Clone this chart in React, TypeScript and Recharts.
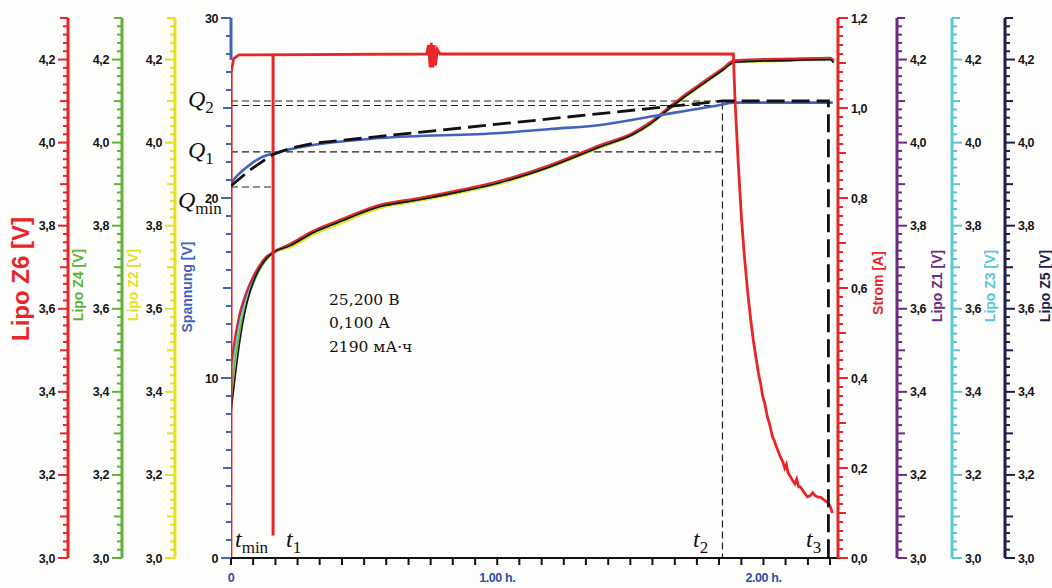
import React from 'react';
import { ComposedChart, Line, XAxis, YAxis, ReferenceLine } from 'recharts';

// ---------- data (time in hours) ----------
const cellEarlyT = [0, 0.0075, 0.0188, 0.0338, 0.0526, 0.0714, 0.0902, 0.109, 0.1316, 0.158];
const cellLateT = [0.222, 0.308, 0.41, 0.56, 0.711, 0.861, 1.011, 1.199, 1.387, 1.511, 1.575, 1.639, 1.699, 1.763, 1.85, 1.887, 1.925, 2.102, 2.252, 2.263];
const cellLateV = [3.752, 3.783, 3.81, 3.846, 3.863, 3.882, 3.904, 3.942, 3.99, 4.02, 4.045, 4.078, 4.108, 4.137, 4.176, 4.193, 4.195, 4.198, 4.2, 4.193];
const z6LateV = [3.755, 3.786, 3.813, 3.849, 3.866, 3.885, 3.907, 3.945, 3.993, 4.023, 4.048, 4.081, 4.111, 4.14, 4.179, 4.196, 4.198, 4.201, 4.203, 4.196];
const z2LateV = [3.748, 3.778, 3.805, 3.842, 3.86, 3.879, 3.901, 3.94, 3.988, 4.018, 4.043, 4.076, 4.106, 4.135, 4.175, 4.192, 4.194, 4.197, 4.199, 4.192];

const z6Early = [3.453, 3.489, 3.537, 3.586, 3.627, 3.658, 3.684, 3.704, 3.723, 3.735];
const z1Early = [3.44, 3.478, 3.528, 3.579, 3.62, 3.653, 3.68, 3.701, 3.721, 3.735];
const z3Early = [3.43, 3.47, 3.52, 3.572, 3.615, 3.65, 3.677, 3.699, 3.72, 3.735];
const z2Early = [3.41, 3.45, 3.505, 3.56, 3.607, 3.645, 3.673, 3.697, 3.718, 3.734];
const z4Early = [3.39, 3.43, 3.49, 3.55, 3.6, 3.64, 3.67, 3.695, 3.717, 3.734];
const z5Early = [3.349, 3.393, 3.453, 3.525, 3.593, 3.641, 3.675, 3.699, 3.72, 3.735];

const currentT = [0, 0.001, 0.01, 0.03, 0.735, 0.742, 0.748, 0.752, 0.758, 0.763, 0.768, 0.775, 0.785, 1.887, 1.893, 1.905, 1.918, 1.93, 1.94, 1.952, 1.962, 1.972, 1.981, 1.99, 1.997, 2.005, 2.015, 2.022, 2.028, 2.034, 2.04, 2.047, 2.055, 2.064, 2.072, 2.08, 2.086, 2.092, 2.102, 2.11, 2.118, 2.125, 2.132, 2.139, 2.15, 2.16, 2.165, 2.175, 2.185, 2.195, 2.203, 2.215, 2.23, 2.244, 2.252, 2.259];
const currentA = [0, 1.08, 1.11, 1.118, 1.12, 1.14, 1.09, 1.145, 1.09, 1.14, 1.095, 1.13, 1.12, 1.12, 1.02, 0.88, 0.75, 0.66, 0.596, 0.53, 0.484, 0.445, 0.411, 0.385, 0.36, 0.343, 0.313, 0.3, 0.285, 0.269, 0.262, 0.25, 0.238, 0.224, 0.215, 0.2, 0.208, 0.19, 0.18, 0.172, 0.165, 0.175, 0.158, 0.158, 0.148, 0.14, 0.136, 0.138, 0.145, 0.138, 0.136, 0.135, 0.128, 0.122, 0.112, 0.1];

const spanT = [0, 0.019, 0.06, 0.109, 0.165, 0.308, 0.56, 1.011, 1.2, 1.387, 1.6, 1.838, 1.887, 2.26];
const spanV = [20.83, 21.17, 21.72, 22.22, 22.5, 22.94, 23.33, 23.61, 23.83, 24.06, 24.58, 25.17, 25.3, 25.3];

const modelT = [0, 0.034, 0.071, 0.109, 0.158, 0.22, 0.308, 1.846, 2.244, 2.244];
const modelV = [20.67, 21.1, 21.55, 21.94, 22.42, 22.75, 23.04, 25.39, 25.39, 0];

// markers
const T1 = 0.158;
const T2 = 1.846;
const QMIN = 20.61;
const Q1 = 22.56;
const Q2A = 25.39;
const Q2B = 25.14;
const t1BarA = [1.12, 0.05];

// axis ticks
const X_MAX = 2.28;
const xMajor = [0, 1, 2];
const xMajorLabels = ['0', '1.00 h.', '2.00 h.'];

// ---------- helpers ----------
const mk = (ts: number[], vs: number[]) => ts.map((t, i) => ({ t, v: vs[i] }));
const cell = (early: number[], late: number[]) => [...mk(cellEarlyT, early), ...mk(cellLateT, late)];
const range = (a: number, b: number, step: number) => {
  const out: number[] = [];
  const n = Math.round((b - a) / step);
  for (let i = 0; i <= n; i++) out.push(Math.round((a + i * step) * 1000) / 1000);
  return out;
};
const lipoTicks = range(3.0, 4.3, 0.02);
const stromTicks = range(0, 1.2, 0.02);
const spanTicks = range(0, 30, 1);
const xTicks = range(0, 2.25, 1 / 12);

const RED = '#e8262a';
const GREEN = '#62b236';
const YELLOW = '#e4e21c';
const BLUE = '#4262bc';
const PURPLE = '#6e2a84';
const CYAN = '#5ac6d6';
const NAVY = '#1e1e4e';

const tickFont = { fontFamily: 'Liberation Sans, Arial, sans-serif', fontWeight: 700, fontSize: 12.5, fill: '#151515' };

const makeTick = (side: 'left' | 'right', color: string, kind: 'lipo' | 'strom' | 'span') => (p: any) => {
  const { x, y, payload } = p;
  const v = payload.value;
  let major = false;
  let mid = false;
  let label = '';
  if (kind === 'span') {
    major = v % 10 === 0;
    mid = v % 5 === 0;
    label = String(v);
  } else {
    const k = Math.round(v * 100);
    major = k % 20 === 0;
    mid = k % 10 === 0;
    label = v.toFixed(1).replace('.', ',');
  }
  const len = major ? 10 : mid ? 8 : 5;
  const dir = side === 'left' ? -1 : 1;
  return (
    <g>
      <line x1={x} x2={x + dir * len} y1={y} y2={y} stroke={color} strokeWidth={2} />
      {major && (
        <text x={x + dir * 13} y={y + 4.5} textAnchor={side === 'left' ? 'end' : 'start'} {...tickFont} letterSpacing={-0.4}>
          {label}
        </text>
      )}
    </g>
  );
};

const XTick = (p: any) => {
  const { x, y, payload } = p;
  const v = payload.value;
  const idx = xMajor.findIndex((m) => Math.abs(m - v) < 1e-6);
  return (
    <g>
      <line x1={x} x2={x} y1={y} y2={y + 7} stroke="#111" strokeWidth={2} />
      {idx >= 0 && (
        <text x={x} y={y + 24} textAnchor="middle" fontFamily="Liberation Sans, Arial, sans-serif" fontWeight={700} fontSize={12.5} fill="#2f4fa6" letterSpacing={-0.4}>
          {xMajorLabels[idx]}
        </text>
      )}
    </g>
  );
};

const serif = 'Liberation Serif, Times New Roman, serif';
const MathLabel = ({ x, y, main, sub }: { x: number; y: number; main: string; sub: string }) => (
  <text x={x} y={y} fontFamily={serif} fill="#111">
    <tspan fontStyle="italic" fontSize={24}>{main}</tspan>
    <tspan fontSize={17} dy={6}>{sub}</tspan>
  </text>
);

const AxisTitle = ({ x, y, text, color, size = 14 }: { x: number; y: number; text: string; color: string; size?: number }) => (
  <text x={x} y={y} transform={`rotate(-90, ${x}, ${y})`} textAnchor="middle" fontFamily="Liberation Sans, Arial, sans-serif" fontWeight={700} fontSize={size} fill={color}>
    {text}
  </text>
);

export default function App() {
  const dash = { stroke: '#222', strokeWidth: 1.2, strokeDasharray: '7 4' };
  return (
    <div style={{ position: 'absolute', left: 0, top: 0, width: 1052, height: 588, background: '#fdfdfb' }}>
      <ComposedChart width={1052} height={588} margin={{ top: 18, right: 0, bottom: 0, left: 0 }}>
        <XAxis
          xAxisId={0}
          type="number"
          dataKey="t"
          domain={[0, X_MAX]}
          ticks={xTicks}
          interval={0}
          height={30}
          axisLine={{ stroke: '#111', strokeWidth: 2 }}
          tickLine={false}
          tickSize={0}
          tickMargin={0}
          tick={XTick}
          allowDataOverflow
        />
        <YAxis yAxisId="span" orientation="left" width={56} type="number" domain={[0, 30]} ticks={spanTicks} interval={0} axisLine={{ stroke: BLUE, strokeWidth: 3, strokeDasharray: '42 2000' }} tickLine={false} tickSize={0} tickMargin={0} tick={makeTick('left', BLUE, 'span')} allowDataOverflow />
        <YAxis yAxisId="z2" orientation="left" width={53} type="number" domain={[3.0, 4.3]} ticks={lipoTicks} interval={0} axisLine={{ stroke: YELLOW, strokeWidth: 3 }} tickLine={false} tickSize={0} tickMargin={0} tick={makeTick('left', YELLOW, 'lipo')} allowDataOverflow />
        <YAxis yAxisId="z4" orientation="left" width={54} type="number" domain={[3.0, 4.3]} ticks={lipoTicks} interval={0} axisLine={{ stroke: GREEN, strokeWidth: 3 }} tickLine={false} tickSize={0} tickMargin={0} tick={makeTick('left', GREEN, 'lipo')} allowDataOverflow />
        <YAxis yAxisId="z6" orientation="left" width={68} type="number" domain={[3.0, 4.3]} ticks={lipoTicks} interval={0} axisLine={{ stroke: RED, strokeWidth: 3 }} tickLine={false} tickSize={0} tickMargin={0} tick={makeTick('left', RED, 'lipo')} allowDataOverflow />
        <YAxis yAxisId="strom" orientation="right" width={59} type="number" domain={[0, 1.2]} ticks={stromTicks} interval={0} axisLine={{ stroke: RED, strokeWidth: 3 }} tickLine={false} tickSize={0} tickMargin={0} tick={makeTick('right', RED, 'strom')} allowDataOverflow />
        <YAxis yAxisId="z1" orientation="right" width={55} type="number" domain={[3.0, 4.3]} ticks={lipoTicks} interval={0} axisLine={{ stroke: PURPLE, strokeWidth: 3 }} tickLine={false} tickSize={0} tickMargin={0} tick={makeTick('right', PURPLE, 'lipo')} allowDataOverflow />
        <YAxis yAxisId="z3" orientation="right" width={53} type="number" domain={[3.0, 4.3]} ticks={lipoTicks} interval={0} axisLine={{ stroke: CYAN, strokeWidth: 3 }} tickLine={false} tickSize={0} tickMargin={0} tick={makeTick('right', CYAN, 'lipo')} allowDataOverflow />
        <YAxis yAxisId="z5" orientation="right" width={47} type="number" domain={[3.0, 4.3]} ticks={lipoTicks} interval={0} axisLine={{ stroke: NAVY, strokeWidth: 3 }} tickLine={false} tickSize={0} tickMargin={0} tick={makeTick('right', NAVY, 'lipo')} allowDataOverflow />

        {/* marker lines */}
        <ReferenceLine yAxisId="span" segment={[{ x: 0, y: Q2A }, { x: T2, y: Q2A }]} {...dash} />
        <ReferenceLine yAxisId="span" segment={[{ x: 0, y: Q2B }, { x: T2, y: Q2B }]} {...dash} />
        <ReferenceLine yAxisId="span" segment={[{ x: 0, y: Q1 }, { x: T2, y: Q1 }]} {...dash} />
        <ReferenceLine yAxisId="span" segment={[{ x: 0, y: QMIN }, { x: T1 - 0.004, y: QMIN }]} {...dash} />
        <ReferenceLine yAxisId="span" segment={[{ x: T2, y: 25.3 }, { x: T2, y: 0 }]} {...dash} />

        {/* cell voltages */}
        <Line yAxisId="z6" data={cell(z6Early, z6LateV)} dataKey="v" type="monotone" stroke={RED} strokeWidth={3.2} dot={false} isAnimationActive={false} />
        <Line yAxisId="z2" data={cell(z2Early, z2LateV)} dataKey="v" type="monotone" stroke={YELLOW} strokeWidth={2.2} dot={false} isAnimationActive={false} />
        <Line yAxisId="z4" data={cell(z4Early, cellLateV)} dataKey="v" type="monotone" stroke={GREEN} strokeWidth={1.6} dot={false} isAnimationActive={false} />
        <Line yAxisId="z1" data={cell(z1Early, cellLateV)} dataKey="v" type="monotone" stroke={PURPLE} strokeWidth={1.6} dot={false} isAnimationActive={false} />
        <Line yAxisId="z3" data={cell(z3Early, cellLateV)} dataKey="v" type="monotone" stroke={CYAN} strokeWidth={1.4} dot={false} isAnimationActive={false} />
        <Line yAxisId="z5" data={cell(z5Early, cellLateV)} dataKey="v" type="monotone" stroke="#141414" strokeWidth={1.6} dot={false} isAnimationActive={false} />

        {/* pack voltage */}
        <Line yAxisId="span" data={mk(spanT, spanV)} dataKey="v" type="monotone" stroke={BLUE} strokeWidth={2.6} dot={false} isAnimationActive={false} />

        {/* current */}
        <Line yAxisId="strom" data={mk(currentT, currentA)} dataKey="v" type="linear" stroke={RED} strokeWidth={2.8} dot={false} isAnimationActive={false} />
        <Line yAxisId="strom" data={mk([T1, T1], t1BarA)} dataKey="v" type="linear" stroke={RED} strokeWidth={3} dot={false} isAnimationActive={false} />

        {/* model */}
        <Line yAxisId="span" data={mk(modelT, modelV)} dataKey="v" type="linear" stroke="#111" strokeWidth={2.8} strokeDasharray="18 7" dot={false} isAnimationActive={false} />
      </ComposedChart>

      <svg width={1052} height={588} style={{ position: 'absolute', left: 0, top: 0, pointerEvents: 'none' }}>
        <AxisTitle x={29} y={279} text="Lipo Z6 [V]" color={RED} size={24} />
        <AxisTitle x={83} y={285} text="Lipo Z4 [V]" color={GREEN} />
        <AxisTitle x={138} y={285} text="Lipo Z2 [V]" color={YELLOW} />
        <AxisTitle x={192} y={287} text="Spannung [V]" color={BLUE} />
        <AxisTitle x={883} y={283} text="Strom [A]" color={RED} />
        <AxisTitle x={942} y={286} text="Lipo Z1 [V]" color={PURPLE} />
        <AxisTitle x={995} y={286} text="Lipo Z3 [V]" color={CYAN} />
        <AxisTitle x={1050} y={286} text="Lipo Z5 [V]" color={NAVY} />

        <MathLabel x={188} y={107} main="Q" sub="2" />
        <MathLabel x={188} y={158} main="Q" sub="1" />
        <MathLabel x={178} y={208} main="Q" sub="min" />
        <MathLabel x={235} y={547} main="t" sub="min" />
        <MathLabel x={286} y={547} main="t" sub="1" />
        <MathLabel x={693} y={547} main="t" sub="2" />
        <MathLabel x={806} y={547} main="t" sub="3" />

        <g fontFamily="DejaVu Serif, serif" fontSize={15.5} fill="#111">
          <text x={329} y={305}>25,200 В</text>
          <text x={329} y={328}>0,100 А</text>
          <text x={329} y={352}>2190 мА·ч</text>
        </g>
      </svg>
    </div>
  );
}
